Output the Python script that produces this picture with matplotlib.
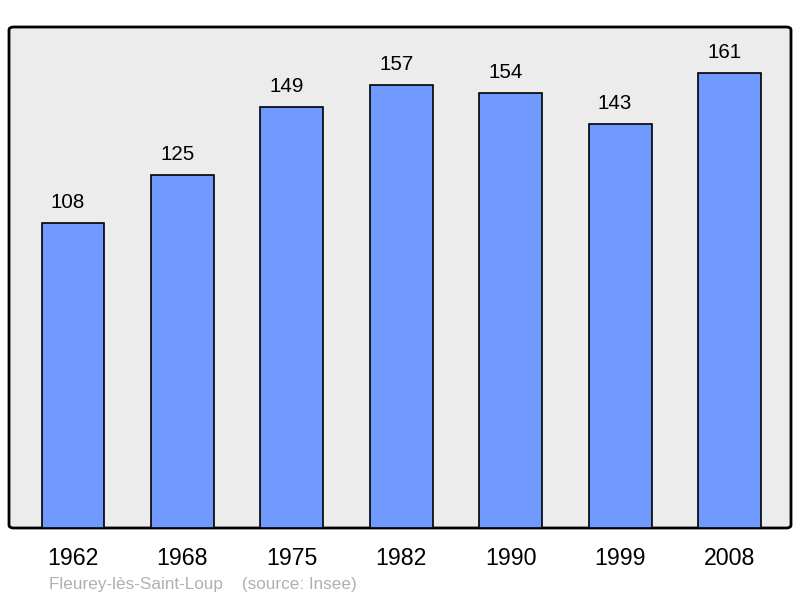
import matplotlib.pyplot as plt
from matplotlib.patches import FancyBboxPatch

# Données de population
annees = ['1962', '1968', '1975', '1982', '1990', '1999', '2008']
population = [108, 125, 149, 157, 154, 143, 161]

plt.rcParams['font.family'] = ['Liberation Sans', 'DejaVu Sans']

fig = plt.figure(figsize=(8, 5.98), dpi=100)
ax = fig.add_axes([9 / 800, 70 / 598, 782 / 800, 501 / 598])
ax.set_facecolor('none')

# Cadre gris aux coins arrondis
cadre = FancyBboxPatch((0, 0), 1, 1, boxstyle='round,pad=0,rounding_size=0.006',
                       transform=ax.transAxes, facecolor='#ececec',
                       edgecolor='black', linewidth=2, zorder=0, clip_on=False)
ax.add_patch(cadre)

x = range(len(annees))
bars = ax.bar(x, population, width=0.575, color='#7099ff', edgecolor='black',
              linewidth=1.2, zorder=2)

# Étiquettes des valeurs, un peu décalées vers la gauche comme sur l'original
for xi, val in zip(x, population):
    ax.annotate(str(val), (xi, val), xytext=(-3.6, 10.8), textcoords='offset points',
                ha='center', va='baseline', fontsize=14.8)

ax.set_xlim(-0.585, 6.562)
ax.set_ylim(0, 177.4)
ax.set_xticks(list(x))
ax.set_xticklabels(annees, fontsize=16.7)
ax.tick_params(axis='x', length=0, pad=13.5)
ax.set_yticks([])
for s in ax.spines.values():
    s.set_visible(False)

fig.text(49 / 800, 1 - 584 / 598, 'Fleurey-lès-Saint-Loup    (source: Insee)',
         color='#b0b0b0', fontsize=12.3, va='center', ha='left')

fig.savefig('out.png', dpi=100)
